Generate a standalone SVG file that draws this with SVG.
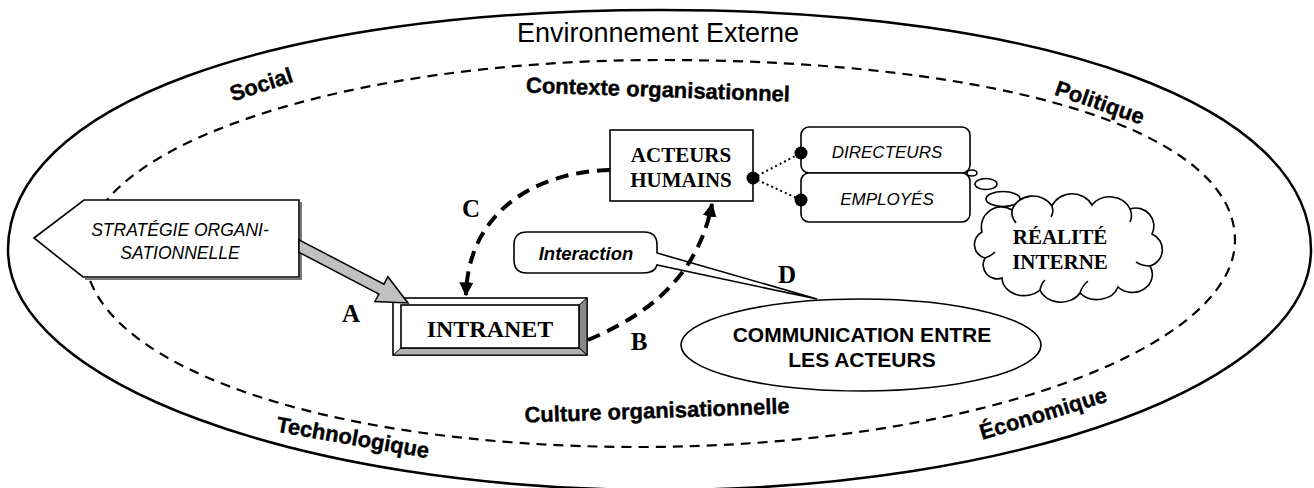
<svg xmlns="http://www.w3.org/2000/svg" width="1314" height="488" viewBox="0 0 1314 488">
  <style>
    .sans { font-family: "Liberation Sans", Arial, sans-serif; }
    .serif { font-family: "Liberation Serif", "Times New Roman", serif; }
    .ring { fill: none; stroke: #000; stroke-width: 2.5; }
    .dash { fill: none; stroke: #000; stroke-width: 2.2; stroke-dasharray: 10 7; }
    .zone { font-family: "Liberation Sans", Arial, sans-serif; font-weight: bold; font-size: 22px; stroke: #000; stroke-width: 0.4; }
    .box { fill: #fff; stroke: #000; stroke-width: 1.6; }
    .curl { fill: none; stroke: #000; stroke-width: 1.6; }
    .flow { fill: none; stroke: #000; stroke-width: 4; stroke-dasharray: 13 8; }
    .dot { fill: #000; }
    .letter { font-family: "Liberation Serif", "Times New Roman", serif; font-weight: bold; font-size: 25px; text-anchor: middle; }
  </style>
  <defs>
    <marker id="head" viewBox="0 0 10 10" refX="9" refY="5" markerWidth="3.5" markerHeight="3.5" orient="auto" markerUnits="strokeWidth">
      <path d="M0,0 L10,5 L0,10 Z" fill="#000"/>
    </marker>
  </defs>

  <rect width="1314" height="488" fill="#fff"/>

  <!-- external environment ring -->
  <g id="environnement">
    <path class="ring" d="M8,250 C8,106 269,10 660,10 C1051,10 1311,106 1311,250 C1311,382 1019,490 660,490 C300,490 8,382 8,250 Z"/>
    <text class="sans" x="658" y="42" font-size="27" text-anchor="middle">Environnement Externe</text>
    <text class="zone" text-anchor="middle" transform="translate(261,84) rotate(-18)" y="8">Social</text>
    <text class="zone" text-anchor="middle" transform="translate(1100,102) rotate(19)" y="8">Politique</text>
    <text class="zone" text-anchor="middle" transform="translate(353,437) rotate(10)" y="8">Technologique</text>
    <text class="zone" text-anchor="middle" transform="translate(1043,413) rotate(-17)" y="8">Économique</text>
  </g>

  <!-- organisational context ring -->
  <g id="contexte">
    <path class="dash" d="M85,253 C85,146 343,60 660,60 C1000,60 1235,130 1235,240 C1235,350 968,447 640,447 C312,447 85,360 85,253 Z"/>
    <text class="zone" font-size="23" text-anchor="middle" transform="translate(658,89) rotate(2)" y="8">Contexte organisationnel</text>
    <text class="zone" font-size="23" text-anchor="middle" transform="translate(657,410) rotate(-2)" y="8">Culture organisationnelle</text>
  </g>

  <g id="strategie">
    <polyline points="301,202 301,279 85,279" fill="none" stroke="#777" stroke-width="2"/>
    <path class="box" d="M34,238 L84,200 L299,200 L299,277 L83,277 Z"/>
    <text class="sans" font-style="italic" font-size="17.5" text-anchor="middle" x="180" y="236">STRATÉGIE ORGANI-</text>
    <text class="sans" font-style="italic" font-size="17.5" text-anchor="middle" x="180" y="259">SATIONNELLE</text>
  </g>

  <g id="intranet">
    <rect x="393" y="298" width="194" height="57" fill="#fff" stroke="#000" stroke-width="1.6"/>
    <polygon points="579,305 587,298 587,355 579,348" fill="#888" stroke="#000" stroke-width="1"/>
    <polygon points="401,348 579,348 587,355 393,355" fill="#b0b0b0" stroke="#000" stroke-width="1"/>
    <rect x="401" y="305" width="178" height="43" fill="#fff" stroke="#000" stroke-width="1.6"/>
    <text class="serif" font-weight="bold" font-size="24" text-anchor="middle" x="490" y="337">INTRANET</text>
  </g>

  <g id="acteurs">
    <rect class="box" x="610" y="130" width="143" height="71"/>
    <text class="serif" font-weight="bold" font-size="21" text-anchor="middle" x="681" y="162">ACTEURS</text>
    <text class="serif" font-weight="bold" font-size="21" text-anchor="middle" x="681" y="187">HUMAINS</text>
  </g>

  <g id="directeurs">
    <rect class="box" x="801" y="127" width="169" height="46" rx="8"/>
    <text class="sans" font-style="italic" font-size="17" text-anchor="middle" x="887" y="158">DIRECTEURS</text>
  </g>

  <g id="employes">
    <rect class="box" x="801" y="173" width="169" height="49" rx="8"/>
    <text class="sans" font-style="italic" font-size="17" text-anchor="middle" x="887" y="205">EMPLOYÉS</text>
  </g>

  <g id="realite">
    <ellipse class="box" cx="972" cy="173" rx="5" ry="3"/>
    <ellipse class="box" cx="986" cy="184" rx="11" ry="5.5"/>
    <ellipse class="box" cx="1003" cy="199" rx="17" ry="7.5"/>
    <path class="box" d="M982,232 A20,20 0 0 1 1012,210 A22,20 0 0 1 1052,206 A22,20 0 0 1 1092,205 A22,20 0 0 1 1130,209 A18,18 0 0 1 1152,234 A17,17 0 0 1 1150,266 A20,18 0 0 1 1118,287 A22,18 0 0 1 1080,293 A22,18 0 0 1 1040,290 A22,18 0 0 1 1002,278 A14,14 0 0 1 985,258 A14,14 0 0 1 982,232 Z"/>
    <!-- inner folds of the cloud outline -->
    <path class="curl" d="M1012,210 Q1011,217 1016,223"/>
    <path class="curl" d="M1052,206 Q1054,212 1051,217"/>
    <path class="curl" d="M1130,209 Q1133,216 1130,222"/>
    <path class="curl" d="M1150,266 Q1142,266 1136,262"/>
    <path class="curl" d="M1080,293 Q1082,286 1088,281"/>
    <path class="curl" d="M1040,290 Q1041,284 1045,280"/>
    <path class="curl" d="M985,258 Q991,256 995,252"/>
    <text class="serif" font-weight="bold" font-size="21" text-anchor="middle" x="1060" y="244">RÉALITÉ</text>
    <text class="serif" font-weight="bold" font-size="21" text-anchor="middle" x="1060" y="269">INTERNE</text>
  </g>

  <g id="interaction">
    <path class="box" d="M527,232 H644 Q657,232 657,245 V253 L817,299 L657,265 Q655,273 643,273 H527 Q514,273 514,260 V245 Q514,232 527,232 Z"/>
    <text class="sans" font-style="italic" font-weight="bold" font-size="18.5" text-anchor="middle" x="586" y="260">Interaction</text>
  </g>

  <g id="communication">
    <ellipse class="box" cx="861" cy="345" rx="180" ry="46"/>
    <text class="sans" font-weight="bold" font-size="21" text-anchor="middle" x="862" y="342">COMMUNICATION ENTRE</text>
    <text class="sans" font-weight="bold" font-size="21" text-anchor="middle" x="862" y="367">LES ACTEURS</text>
  </g>

  <!-- connectors -->
  <g id="connecteurs">
    <!-- A: strategy feeds the intranet -->
    <polygon points="299,239.8 384,284.2 387.9,276.7 408,303 374.9,301.5 378.9,294 299,252.3" fill="#c0c0c0" stroke="#000" stroke-width="1.5"/>
    <!-- C: actors to intranet -->
    <path class="flow" d="M610,170 C535,172 468,212 466,295" marker-end="url(#head)"/>
    <!-- B: intranet to actors -->
    <path class="flow" d="M588,340 C640,318 697,282 712,204" marker-end="url(#head)"/>
    <!-- actor categories -->
    <line x1="753" y1="178" x2="801" y2="153" stroke="#000" stroke-width="2" stroke-dasharray="2 3"/>
    <line x1="753" y1="178" x2="801" y2="200" stroke="#000" stroke-width="2" stroke-dasharray="2 3"/>
    <circle class="dot" cx="753" cy="178" r="6.5"/>
    <circle class="dot" cx="801" cy="153" r="6.5"/>
    <circle class="dot" cx="801" cy="200" r="6.5"/>
    <text class="letter" x="351" y="322" font-size="26">A</text>
    <text class="letter" x="639" y="350">B</text>
    <text class="letter" x="471" y="217">C</text>
    <text class="letter" x="787" y="283" font-size="27">D</text>
  </g>
</svg>
